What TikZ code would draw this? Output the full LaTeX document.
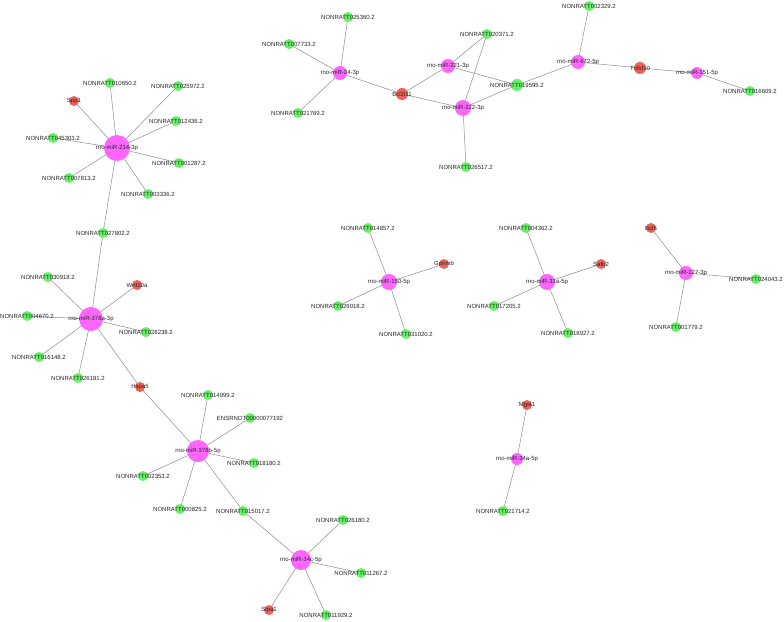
\documentclass[tikz,border=0pt]{standalone}
\usepackage{fontspec}
\setmainfont{Liberation Sans}
\usetikzlibrary{backgrounds}
\definecolor{gfill}{HTML}{66F266}
\definecolor{pfill}{HTML}{FF66FF}
\definecolor{rfill}{HTML}{F2605A}
\definecolor{edgec}{HTML}{8C8C8C}
\tikzset{
  base/.style={circle,inner sep=0pt,draw=none},
  gn/.style={base,fill=gfill,minimum size=10pt},
  rn/.style={base,fill=rfill,minimum size=10pt},
  pn/.style={base,fill=pfill,minimum size=#1},
  lbl/.style={font=\fontsize{6}{7}\selectfont,text=black!85,inner sep=0pt},
  ed/.style={draw=edgec,line width=0.5pt},
}
\newcommand{\gnode}[4][gn]{\node[#1,label={[lbl]center:#4}] (#2) at (#3) {};}
\begin{document}
\begin{tikzpicture}[x=1pt,y=-1pt]
\useasboundingbox (0,0) rectangle (784,621);
% cluster miR-214-3p
\gnode[pn=26pt]{m214}{117,148}{rno-miR-214-3p}
\gnode{n010650}{110,83}{NONRATT010650.2}
\gnode{n025972}{178,86}{NONRATT025972.2}
\gnode[rn]{spp1}{74,101}{Spp1}
\gnode{n012436}{176,121}{NONRATT012436.2}
\gnode{n045303}{53,138}{NONRATT045303.2}
\gnode{n001287}{179,163}{NONRATT001287.2}
\gnode{n007813}{69,178}{NONRATT007813.2}
\gnode{n003336}{148,194}{NONRATT003336.2}
\gnode{n027802}{103,233}{NONRATT027802.2}
% cluster miR-378a-3p
\gnode[pn=24pt]{m378a}{91,319}{rno-miR-378a-3p}
\gnode{n030918}{48,277}{NONRATT030918.2}
\gnode[rn]{wnt}{137,285}{Wnt10a}
\gnode{n004670}{27,316}{NONRATT004670.2}
\gnode{n028238}{146,332}{NONRATT028238.2}
\gnode{n016148}{39,357}{NONRATT016148.2}
\gnode{n026181}{78,378}{NONRATT026181.2}
\gnode[rn]{hspa}{140,387}{Hspa5}
% cluster miR-378b-5p
\gnode[pn=22pt]{m378b}{198,451}{rno-miR-378b-5p}
\gnode{n014999}{208,395}{NONRATT014999.2}
\gnode{ens}{250,418}{ENSRNOT00000077192}
\gnode{n018180}{254,463}{NONRATT018180.2}
\gnode{n002353}{143,476}{NONRATT002353.2}
\gnode{n000825}{180,509}{NONRATT000825.2}
\gnode{n015017}{243,511}{NONRATT015017.2}
% cluster miR-34c-5p
\gnode[pn=20pt]{m34c}{301,560}{rno-miR-34c-5p}
\gnode{n026180}{343,520}{NONRATT026180.2}
\gnode{n011267}{361,573}{NONRATT011267.2}
\gnode{n011929}{326,615}{NONRATT011929.2}
\gnode[rn]{sipa}{269,610}{Sipa1}
% top middle
\gnode[pn=14pt]{m24}{340,73}{rno-miR-24-3p}
\gnode{n025360}{348,17}{NONRATT025360.2}
\gnode{n007733}{289,44}{NONRATT007733.2}
\gnode{n021769}{298,113}{NONRATT021769.2}
\gnode[rn,minimum size=12pt]{bcl}{402,94}{Bcl2l11}
\gnode[pn=14pt]{m221}{448,66}{rno-miR-221-3p}
\gnode[pn=16pt]{m222}{463,108}{rno-miR-222-3p}
\gnode{n020371}{487,34}{NONRATT020371.2}
\gnode[gn,minimum size=12pt]{n019595}{517,85}{NONRATT019595.2}
\gnode{n026517}{466,167}{NONRATT026517.2}
% top right
\gnode[pn=14pt]{m672}{578,62}{rno-miR-672-5p}
\gnode{n002329}{589,6}{NONRATT002329.2}
\gnode[rn,minimum size=12pt]{tnf}{640,68}{Tnfsf10}
\gnode[pn=12pt]{m151}{697,73}{rno-miR-151-5p}
\gnode{n016609}{750,91}{NONRATT016609.2}
% miR-150-5p
\gnode[pn=16pt]{m150}{389,282}{rno-miR-150-5p}
\gnode{n014857}{368,228}{NONRATT014857.2}
\gnode[rn]{gpnmb}{444,264}{Gpnmb}
\gnode{n026018}{338,306}{NONRATT026018.2}
\gnode{n031020}{406,334}{NONRATT031020.2}
% miR-31a-5p
\gnode[pn=16pt]{m31a}{547,282}{rno-miR-31a-5p}
\gnode{n004362}{526,228}{NONRATT004362.2}
\gnode[rn]{satb}{601,264}{Satb2}
\gnode{n017205}{494,306}{NONRATT017205.2}
\gnode{n018927}{568,333}{NONRATT018927.2}
% miR-127-3p
\gnode[pn=14pt]{m127}{686,273}{rno-miR-127-3p}
\gnode[rn]{bcl6}{651,228}{Bcl6}
\gnode{n024043}{756,279}{NONRATT024043.2}
\gnode{n001779}{676,327}{NONRATT001779.2}
% miR-34a-5p
\gnode[pn=12pt]{m34a}{517,459}{rno-miR-34a-5p}
\gnode[rn]{mgst}{527,405}{Mgst1}
\gnode{n021714}{503,511}{NONRATT021714.2}

\begin{scope}[on background layer]
\foreach \a/\b in {m214/n010650,m214/n025972,m214/spp1,m214/n012436,m214/n045303,m214/n001287,m214/n007813,m214/n003336,m214/n027802,
  n027802/m378a,m378a/n030918,m378a/wnt,m378a/n004670,m378a/n028238,m378a/n016148,m378a/n026181,m378a/hspa,
  hspa/m378b,m378b/n014999,m378b/ens,m378b/n018180,m378b/n002353,m378b/n000825,m378b/n015017,
  n015017/m34c,m34c/n026180,m34c/n011267,m34c/n011929,m34c/sipa,
  m24/n025360,m24/n007733,m24/n021769,m24/bcl,bcl/m221,bcl/m222,m221/n020371,m221/n019595,m222/n020371,m222/n019595,m222/n026517,
  n019595/m672,m672/n002329,m672/tnf,tnf/m151,m151/n016609,
  m150/n014857,m150/gpnmb,m150/n026018,m150/n031020,
  m31a/n004362,m31a/satb,m31a/n017205,m31a/n018927,
  m127/bcl6,m127/n024043,m127/n001779,
  m34a/mgst,m34a/n021714}
  \draw[ed] (\a.center) -- (\b.center);
\end{scope}
\end{tikzpicture}
\end{document}
